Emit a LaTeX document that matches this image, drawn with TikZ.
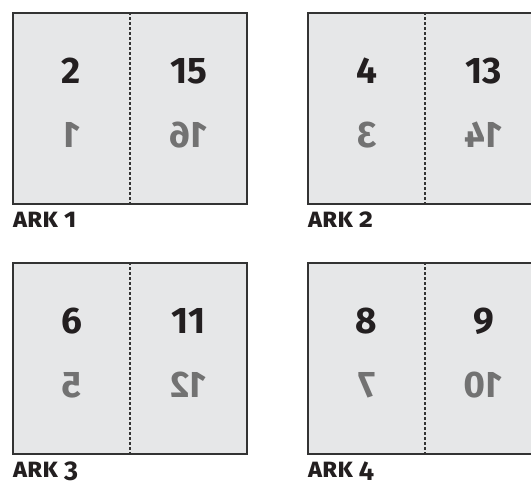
\documentclass[tikz,border=0pt]{standalone}
\usepackage{fontspec}
\usepackage{graphicx}
\setmainfont{Fira Sans}
\definecolor{sheetfill}{HTML}{E6E7E8}
\definecolor{sheetline}{HTML}{333333}
\definecolor{ink}{HTML}{231F20}
\definecolor{backink}{HTML}{727272}
\tikzset{
  sheetbox/.style={draw=sheetline, fill=sheetfill, line width=1.2pt,
    minimum width=234pt, minimum height=191pt, inner sep=0pt},
  fold/.style={draw=sheetline, line width=1.1pt, dash pattern=on 3pt off 2pt},
  topnum/.style={anchor=base, inner sep=0pt, text=ink,
    font=\bfseries\fontsize{37}{37}\selectfont},
  backnum/.style={anchor=base, inner sep=0pt, text=backink,
    font=\bfseries\fontsize{37}{37}\selectfont},
  arklabel/.style={anchor=base west, inner sep=0pt, text=ink,
    font=\bfseries\addfontfeatures{Letters=SmallCaps,Numbers=OldStyle}\fontsize{27}{27}\selectfont}
}
\newcommand\drawsheet[8]{%
  \node[sheetbox] (#1) at (#2+117, #3+95.5) {};
  \draw[fold] (#1.north) -- (#1.south);
  \node[topnum] (#1tl) at (#2+58.5, #3+70) {#4};
  \node[topnum] (#1tr) at (#2+175.5, #3+70) {#5};
  \node[backnum] (#1bl) at (#2+58.5, #3+134) {\reflectbox{#6}};
  \node[backnum] (#1br) at (#2+175.5, #3+134) {\reflectbox{#7}};
  \node[arklabel] (#1lab) at (#2, #3+214) {#8};
}
\begin{document}
\begin{tikzpicture}[x=1pt, y=-1pt]
  \useasboundingbox (0,0) rectangle (531,483);
  \clip (0,0) rectangle (531,483);
  \drawsheet{s1}{13}{13}{2}{15}{1}{16}{ark 1}
  \drawsheet{s2}{308}{13}{4}{13}{3}{14}{ark 2}
  \drawsheet{s3}{13}{263}{6}{11}{5}{12}{ark 3}
  \drawsheet{s4}{308}{263}{8}{9}{7}{10}{ark 4}
\end{tikzpicture}
\end{document}
